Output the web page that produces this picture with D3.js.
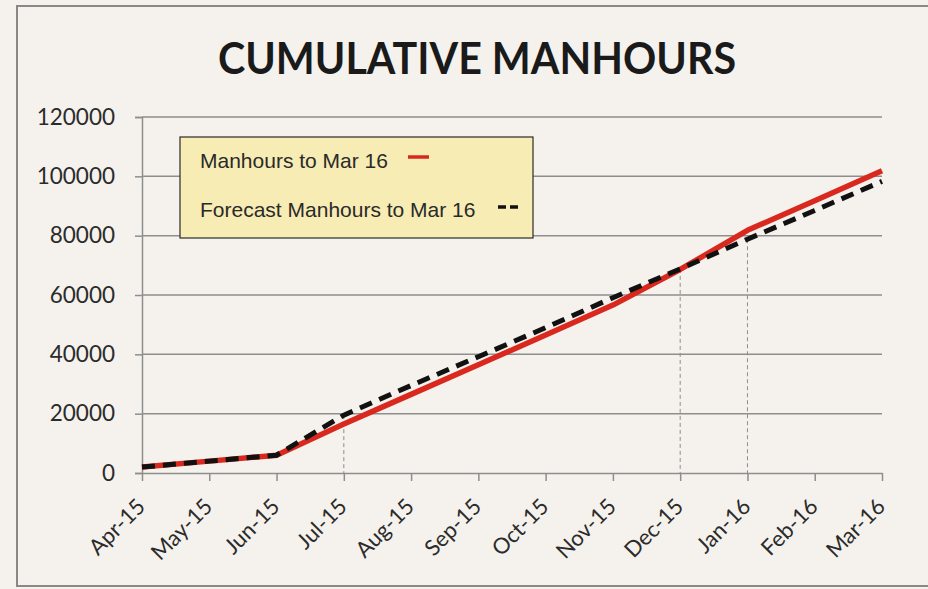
<!DOCTYPE html>
<html>
<head>
<meta charset="utf-8">
<script src="https://cdn.jsdelivr.net/npm/d3@7"></script>
<style>
  body { margin: 0; background: #f5f2ed; }
  svg { display: block; }
  .tick text { font-family: Lato, "Open Sans", sans-serif; fill: #2b2b2b; }
</style>
</head>
<body>
<div id="chart"></div>
<script>
// values
const months = ["Apr-15", "May-15", "Jun-15", "Jul-15", "Aug-15", "Sep-15",
  "Oct-15", "Nov-15", "Dec-15", "Jan-16", "Feb-16", "Mar-16"];
const actual = [2000, 4000, 6000, 16500, 26500, 36500, 46500, 56600, 68600, 81800, 91800, 101900];
const forecast = [2000, 4000, 6000, 19500, 29500, 39200, 49000, 59100, 68800, 78800, 88500, 98300];
const dropMonths = ["Jul-15", "Dec-15", "Jan-16"];
const yTicks = [0, 20000, 40000, 60000, 80000, 100000, 120000];
const legendItems = ["Manhours to Mar 16", "Forecast Manhours to Mar 16"];

const W = 928, H = 589;
const margin = {top: 117, right: 46, bottom: 116, left: 142};

const svg = d3.select("#chart").append("svg")
  .attr("width", W)
  .attr("height", H);

// outer frame (right edge falls outside the picture)
svg.append("rect")
  .attr("x", 17).attr("y", 6)
  .attr("width", W + 10).attr("height", 580)
  .attr("fill", "none")
  .attr("stroke", "#8a8886")
  .attr("stroke-width", 2);

svg.append("text")
  .attr("x", 477).attr("y", 74)
  .attr("text-anchor", "middle")
  .attr("textLength", 518)
  .attr("lengthAdjust", "spacingAndGlyphs")
  .style("font-family", "Lato, 'Open Sans', sans-serif")
  .style("font-weight", "bold")
  .style("font-size", "44px")
  .attr("fill", "#1a1a1a")
  .text("CUMULATIVE MANHOURS");

const x = d3.scalePoint()
  .domain(months)
  .range([margin.left, W - margin.right]);

const y = d3.scaleLinear()
  .domain([0, 120000])
  .range([H - margin.bottom, margin.top]);

// gridlines
svg.append("g")
  .selectAll("line")
  .data(yTicks.filter(d => d > 0))
  .join("line")
    .attr("x1", margin.left).attr("x2", W - margin.right)
    .attr("y1", d => y(d)).attr("y2", d => y(d))
    .attr("stroke", "#8e8e8e")
    .attr("stroke-width", 1.5);

// y axis
const yAxis = svg.append("g")
  .attr("transform", "translate(" + margin.left + ",0)")
  .call(d3.axisLeft(y).tickValues(yTicks).tickFormat(d3.format("d")).tickSize(7).tickPadding(20));
yAxis.selectAll("line, path").attr("stroke", "#8e8e8e").attr("stroke-width", 1.5);
yAxis.selectAll("text").style("font-size", "22.5px");

// x axis
const xAxis = svg.append("g")
  .attr("transform", "translate(0," + y(0) + ")")
  .call(d3.axisBottom(x).tickSize(8).tickSizeOuter(0));
xAxis.select("path").attr("stroke", "#8e8e8e").attr("stroke-width", 1.5);
xAxis.selectAll("line").attr("stroke", "#8e8e8e").attr("stroke-width", 1.5);
xAxis.selectAll("text")
  .style("font-size", "22px")
  .attr("text-anchor", "end")
  .attr("x", 0).attr("y", 0).attr("dy", 0)
  .attr("transform", "translate(4,35) rotate(-45)");

// drop lines from forecast
svg.append("g")
  .selectAll("line")
  .data(dropMonths)
  .join("line")
    .attr("x1", d => x(d)).attr("x2", d => x(d))
    .attr("y1", d => y(forecast[months.indexOf(d)]))
    .attr("y2", y(0))
    .attr("stroke", "#8e8e8e")
    .attr("stroke-width", 1)
    .attr("stroke-dasharray", "4,3");

const line = d3.line()
  .x((d, i) => x(months[i]))
  .y(d => y(d));

svg.append("path")
  .datum(actual)
  .attr("fill", "none")
  .attr("stroke", "#d9291f")
  .attr("stroke-width", 5.5)
  .attr("stroke-linejoin", "round")
  .attr("d", line);

svg.append("path")
  .datum(forecast)
  .attr("fill", "none")
  .attr("stroke", "#111")
  .attr("stroke-width", 5)
  .attr("stroke-dasharray", "13,8")
  .attr("d", line);

// legend
const legend = svg.append("g");
legend.append("rect")
  .attr("x", 180).attr("y", 137)
  .attr("width", 353).attr("height", 101)
  .attr("fill", "#f7ecb3")
  .attr("stroke", "#2a2a2a")
  .attr("stroke-width", 1.2);

legend.selectAll("text")
  .data(legendItems)
  .join("text")
    .attr("x", 200)
    .attr("y", (d, i) => 168 + i * 49)
    .style("font-family", "'Liberation Sans', Arial, sans-serif")
    .style("font-size", "21px")
    .attr("fill", "#2a2a2a")
    .text(d => d);

legend.append("line")
  .attr("x1", 408).attr("x2", 429)
  .attr("y1", 157).attr("y2", 157)
  .attr("stroke", "#d9291f").attr("stroke-width", 3.5);

legend.append("line")
  .attr("x1", 498).attr("x2", 521)
  .attr("y1", 207).attr("y2", 207)
  .attr("stroke", "#111").attr("stroke-width", 3.5)
  .attr("stroke-dasharray", "8,4");
</script>
</body>
</html>
